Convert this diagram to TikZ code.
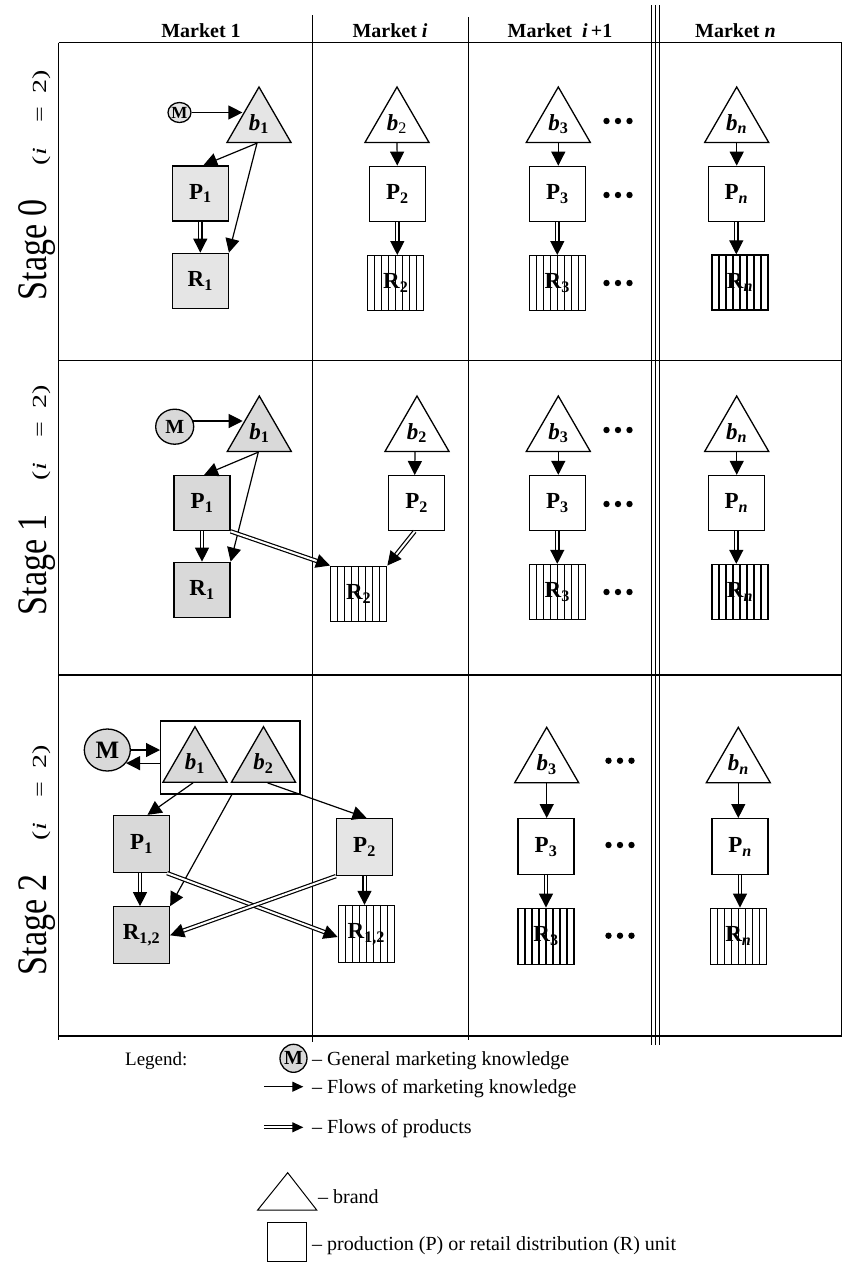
\documentclass[tikz,border=0pt]{standalone}
\usepackage{fontspec}
\setmainfont{Liberation Serif}
\usepackage{graphicx}
\usetikzlibrary{arrows.meta,shapes.geometric,calc}

\definecolor{gA}{gray}{0.90}
\definecolor{gB}{gray}{0.85}

% rotated row heading: "Stage k (i = 2)"
\newcommand{\stagelabel}[1]{\rmfamily
  \scalebox{0.81}[1]{\fontsize{42}{44}\selectfont Stage #1}\hspace{34pt}%
  \scalebox{1.4}[1]{\fontsize{20}{22}\selectfont(\textit{i}\hspace{0.9em}=\hspace{0.5em}2)}}

\tikzset{
  grid/.style={line width=1.5pt},
  hdr/.style={anchor=base, inner sep=0pt, font=\fontsize{20}{24}\selectfont\bfseries},
  unit/.style={draw, line width=1.3pt, minimum width=56pt, minimum height=55pt, inner sep=0pt,
    font=\fontsize{23}{26}\selectfont\bfseries},
  hatched/.style={unit, fill=white, path picture={
      \foreach \k in {1,...,7}{
        \draw[line width=1.1pt]
          ($(path picture bounding box.south west)!\k/8!(path picture bounding box.south east)$) --
          ($(path picture bounding box.north west)!\k/8!(path picture bounding box.north east)$);}}},
  brand/.style={draw, regular polygon, regular polygon sides=3, minimum size=74pt, inner sep=0pt,
    line width=1.3pt, font=\fontsize{23}{26}\selectfont\bfseries\itshape},
  mk/.style={draw, ellipse, line width=1.3pt, inner sep=0pt},
  kn/.style={line width=1.2pt, -{Triangle[length=14pt,width=14pt]}},
  pr/.style={double, double distance=2pt, line width=1.2pt, -{Triangle[length=14pt,width=14pt]}},
  lgtext/.style={anchor=base west, inner sep=0pt, font=\fontsize{20}{24}\selectfont},
}

\begin{document}
\begin{tikzpicture}[x=1pt,y=-1pt]
\useasboundingbox (0,0) rectangle (844,1262);

% ---------- table frame ----------
\draw[grid] (58.5,42.5) -- (841.5,42.5);
\draw[grid] (58.5,360.5) -- (841.5,360.5);
\draw[grid] (58.5,675) -- (841.5,675);
\draw[grid] (58.5,1036) -- (841.5,1036);
\draw[grid] (58.5,42.5) -- (58.5,1040);
\draw[grid] (312.5,15) -- (312.5,1042);
\draw[grid] (468.5,17) -- (468.5,1040);
\foreach \x in {651.5,655.5,659.5} \draw[grid] (\x,5) -- (\x,1045);
\draw[grid] (841.5,42.5) -- (841.5,1036);

% ---------- column headings ----------
\node[hdr] (h1) at (201,37.3) {Market 1};
\node[hdr] (h2) at (390,37.3) {Market \textit{i}};
\node[hdr] (h3) at (560,37.3) {Market\ \ \textit{i}\,+1};
\node[hdr] (h4) at (735.5,37.3) {Market \textit{n}};

% ---------- row headings ----------
\node[rotate=90, anchor=base, inner sep=0pt] (st0) at (46,185) {\stagelabel{0}};
\node[rotate=90, anchor=base, inner sep=0pt] (st1) at (46,500) {\stagelabel{1}};
\node[rotate=90, anchor=base, inner sep=0pt] (st2) at (46,860) {\stagelabel{2}};

% ---------- Stage 0 ----------
\node[mk, minimum width=23pt, minimum height=20pt, fill=gA, font=\fontsize{17}{18}\selectfont\bfseries] (s0M) at (179.5,112.5) {M};
\node[brand, fill=gA] (s0b1) at (259,124) {b\textsubscript{\upshape 1}};
\node[unit, fill=gA] (s0P1) at (200.3,193.5) {P\textsubscript{1}};
\node[unit, fill=gA] (s0R1) at (200.3,280.8) {R\textsubscript{1}};
\draw[kn] (s0M.east) -- (s0M.east -| s0b1.side 1);
\draw[kn] ($(s0b1.south)+(-2,0)$) -- ([xshift=3pt]s0P1.north);
\draw[kn] ($(s0b1.south)+(-2,0)$) -- (s0R1.north east);
\draw[pr] (s0P1.south) -- (s0R1.north);

\node[brand] (s0b2) at (397,124) {b\textsubscript{\upshape\mdseries 2}};
\node[unit] (s0P2) at (397.3,193.8) {P\textsubscript{2}};
\node[hatched] (s0R2) at (395.8,283.2) {R\textsubscript{2}};
\draw[kn] (s0b2.south) -- (s0P2.north);
\draw[pr] (s0P2.south) -- (s0P2.south |- s0R2.north);

\node[brand] (s0b3) at (558.3,124) {b\textsubscript{\upshape 3}};
\node[unit] (s0P3) at (557.3,193.8) {P\textsubscript{3}};
\node[hatched] (s0R3) at (557.3,283.2) {R\textsubscript{3}};
\draw[kn] (s0b3.south) -- (s0b3.south |- s0P3.north);
\draw[pr] (s0P3.south) -- (s0R3.north);

\node[brand] (s0bn) at (736.7,124) {b\textsubscript{n}};
\node[unit] (s0Pn) at (736.3,193.8) {P\textsubscript{\itshape n}};
\node[hatched] (s0Rn) at (740,282.5) {R\textsubscript{\itshape n}};
\draw[kn] (s0bn.south) -- (s0bn.south |- s0Pn.north);
\draw[pr] (s0Pn.south) -- (s0Pn.south |- s0Rn.north);

\foreach \y in {121,195,283} \foreach \dx in {-11.5,0,11.5} \fill (618+\dx,\y) circle (3.2pt);

% ---------- Stage 1 ----------
\node[mk, minimum width=38pt, minimum height=35pt, fill=gB, font=\fontsize{20}{22}\selectfont\bfseries] (s1M) at (174.7,426.7) {M};
\node[brand, fill=gB] (s1b1) at (259.3,433) {b\textsubscript{\upshape 1}};
\node[unit, fill=gB] (s1P1) at (202,503.2) {P\textsubscript{1}};
\node[unit, fill=gB] (s1R1) at (202,589.8) {R\textsubscript{1}};
\draw[kn] (s1M.17) -- (s1M.17 -| s1b1.side 1);
\draw[kn] ($(s1b1.south)+(-1,0)$) -- ([xshift=2pt]s1P1.north);
\draw[kn] ($(s1b1.south)+(-1,0)$) -- (s1R1.north east);
\draw[pr] (s1P1.south) -- (s1R1.north);

\node[brand] (s1b2) at (417,433) {b\textsubscript{\upshape 2}};
\node[unit] (s1P2) at (416.7,503.2) {P\textsubscript{2}};
\node[hatched] (s1R2) at (358.7,593.7) {R\textsubscript{2}};
\draw[kn] ($(s1b2.south)+(-2,0)$) -- ([xshift=-2pt]s1P2.north);
\draw[pr] (s1P1.south east) -- (s1R2.north west);
\draw[pr] ([xshift=-2pt]s1P2.south) -- (s1R2.north east);

\node[brand] (s1b3) at (558.3,433) {b\textsubscript{\upshape 3}};
\node[unit] (s1P3) at (557.3,503) {P\textsubscript{3}};
\node[hatched] (s1R3) at (557.3,592) {R\textsubscript{3}};
\draw[kn] (s1b3.south) -- (s1b3.south |- s1P3.north);
\draw[pr] (s1P3.south) -- (s1R3.north);

\node[brand] (s1bn) at (736.7,433) {b\textsubscript{n}};
\node[unit] (s1Pn) at (736.3,503) {P\textsubscript{\itshape n}};
\node[hatched] (s1Rn) at (740,592) {R\textsubscript{\itshape n}};
\draw[kn] (s1bn.south) -- (s1bn.south |- s1Pn.north);
\draw[pr] (s1Pn.south) -- (s1Pn.south |- s1Rn.north);

\foreach \y in {430,504,592} \foreach \dx in {-11.5,0,11.5} \fill (618+\dx,\y) circle (3.2pt);

% ---------- Stage 2 ----------
\node[mk, minimum width=46pt, minimum height=42pt, fill=gB, font=\fontsize{25}{28}\selectfont\bfseries] (s2M) at (107.3,750) {M};
\node[draw, line width=1.3pt, minimum width=139.3pt, minimum height=73pt, inner sep=0pt] (s2grp) at (230.3,757.5) {};
\node[brand, fill=gB] (s2b1) at (195,763.7) {b\textsubscript{\upshape 1}};
\node[brand, fill=gB] (s2b2) at (263.5,763.7) {b\textsubscript{\upshape 2}};
\node[unit, minimum height=57pt, fill=gB] (s2P1) at (141.5,844) {P\textsubscript{1}};
\node[unit, minimum height=57pt, fill=gB] (s2R1) at (141.5,935.3) {R\textsubscript{1,2}};
\node[unit, minimum height=57pt, fill=gA] (s2P2) at (364.5,847) {P\textsubscript{2}};
\node[hatched, minimum height=57pt] (s2R2) at (366.3,934) {R\textsubscript{1,2}};
\draw[kn] (s2M.east) -- (s2M.east -| s2grp.west);
\draw[kn] (s2M.-35 -| s2grp.west) -- (s2M.-35);
\draw[kn] ($(s2b1.south)+(-2,0)$) -- ([xshift=6pt]s2P1.north);
\draw[kn] ($(s2grp.south)+(1.5,0)$) -- (s2R1.north east);
\draw[kn] ($(s2b2.south)+(4,0)$) -- ([xshift=2pt]s2P2.north);
\draw[pr] ([xshift=-1.5pt]s2P1.south) -- ([xshift=-1.5pt]s2R1.north);
\draw[pr] (s2P2.south) -- (s2P2.south |- s2R2.north);
\draw[pr] ($(s2P1.south east)+(-3,0)$) -- ($(s2R2.west)+(0,3)$);
\draw[pr] (s2P2.south west) -- (s2R1.east);

\node[brand] (s2b3) at (546.7,764.3) {b\textsubscript{\upshape 3}};
\node[unit, minimum height=56pt] (s2P3) at (546,846.7) {P\textsubscript{3}};
\node[hatched, minimum height=56pt] (s2R3) at (546,936.2) {R\textsubscript{3}};
\draw[kn] (s2b3.south) -- (s2b3.south |- s2P3.north);
\draw[pr] (s2P3.south) -- (s2R3.north);

\node[brand] (s2bn) at (738.3,764.3) {b\textsubscript{n}};
\node[unit, minimum height=56pt] (s2Pn) at (740,846.7) {P\textsubscript{\itshape n}};
\node[hatched, minimum height=56pt] (s2Rn) at (738.3,936.2) {R\textsubscript{\itshape n}};
\draw[kn] (s2bn.south) -- (s2bn.south |- s2Pn.north);
\draw[pr] (s2Pn.south) -- (s2Pn.south |- s2Rn.north);

\foreach \y in {760.7,845,935.7} \foreach \dx in {-11.5,0,11.5} \fill (620+\dx,\y) circle (3.2pt);

% ---------- legend ----------
\node[anchor=base west, inner sep=0pt, font=\fontsize{19}{22}\selectfont] (lg) at (125,1065) {Legend:};
\node[mk, minimum width=27pt, minimum height=28pt, fill=gB, font=\fontsize{20}{22}\selectfont\bfseries] (lgM) at (293.5,1058.3) {M};
\node[lgtext] (lgMt) at (312,1065) {-- General marketing knowledge};
\coordinate (lka) at (264,1086.7);
\coordinate (lkb) at (303.3,1086.7);
\draw[line width=1.2pt, -{Triangle[length=11pt,width=10pt]}] (lka) -- (lkb);
\node[lgtext] (lgKt) at (312,1093) {-- Flows of marketing knowledge};
\coordinate (lpa) at (264,1127.3);
\coordinate (lpb) at (303.3,1127.3);
\draw[double, double distance=2pt, line width=1.1pt, -{Triangle[length=11pt,width=10pt]}] (lpa) -- (lpb);
\node[lgtext] (lgPt) at (312,1133.3) {-- Flows of products};
\draw[line width=1pt] (287.7,1172.7) -- (316.7,1210) -- (257.7,1210) -- cycle;
\node[lgtext] (lgBt) at (318,1203) {-- brand};
\draw[line width=1pt] (267.3,1222.7) rectangle (306.7,1261.3);
\node[lgtext] (lgUt) at (312,1250) {-- production (P) or retail distribution (R) unit};
\end{tikzpicture}
\end{document}
